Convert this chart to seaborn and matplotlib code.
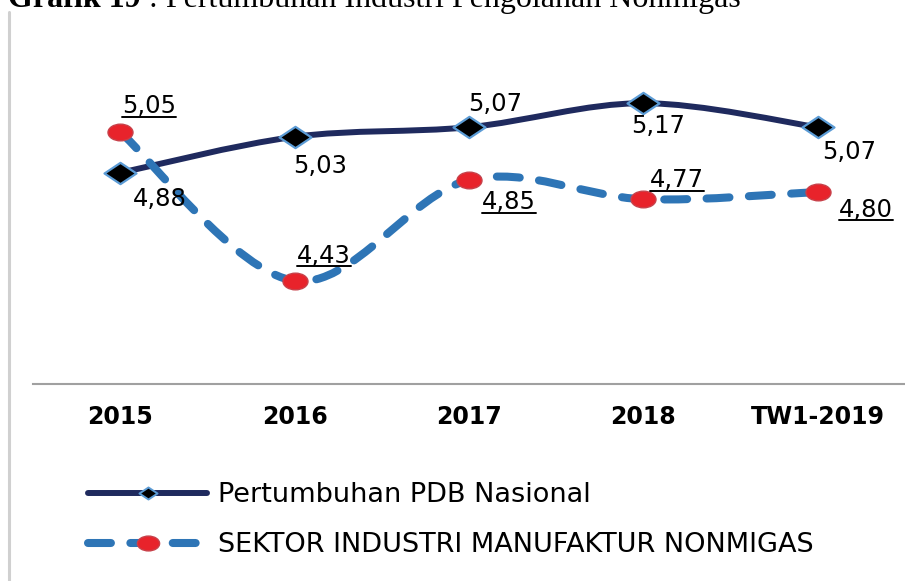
import numpy as np
import matplotlib
matplotlib.use("Agg")
import matplotlib.pyplot as plt
from matplotlib.path import Path
from matplotlib.patches import PathPatch
from matplotlib.lines import Line2D
from matplotlib.transforms import Affine2D
import seaborn as sns

# --- Data ---
categories = ["2015", "2016", "2017", "2018", "TW1-2019"]
pdb_nasional = [4.88, 5.03, 5.07, 5.17, 5.07]
industri_nonmigas = [5.05, 4.43, 4.85, 4.77, 4.80]
label_pdb = "Pertumbuhan PDB Nasional"
label_industri = "SEKTOR INDUSTRI MANUFAKTUR NONMIGAS"
title_bold = "Grafik 19"
title_rest = " : Pertumbuhan Industri Pengolahan Nonmigas"

# where each value label sits relative to its point, pixels (right, down)
off_pdb = [(40, 26), (26, 29), (26, -23), (15, 23), (31, 25)]
off_ind = [(29, -26), (29, -25), (40, 22), (34, -19), (48, 18)]

NAVY = "#1F2A5E"
BLUE = "#2E75B6"
LIGHT_BLUE = "#5B9BD5"
RED = "#E8232B"

W, H = 905, 581


def smooth_path(xs, ys):
    """Catmull-Rom style bezier through the points (like Excel smoothed lines)."""
    pts = np.column_stack([xs, ys]).astype(float)
    n = len(pts)
    verts = [pts[0]]
    codes = [Path.MOVETO]
    for i in range(n - 1):
        p0 = pts[max(i - 1, 0)]
        p1 = pts[i]
        p2 = pts[i + 1]
        p3 = pts[min(i + 2, n - 1)]
        verts += [p1 + (p2 - p0) / 6, p2 - (p3 - p1) / 6, p2]
        codes += [Path.CURVE4] * 3
    return Path(verts, codes)


# stretched marker shapes
diamond = Path([(-1.5, 0), (0, 1), (1.5, 0), (0, -1), (-1.5, 0)],
               [Path.MOVETO, Path.LINETO, Path.LINETO, Path.LINETO, Path.CLOSEPOLY])
ellipse = Path.unit_circle().transformed(Affine2D().scale(1.5, 1.0))

sns.set_theme(style="white")
plt.rcParams["font.family"] = ["DejaVu Sans"]
plt.rcParams["text.color"] = "black"
plt.rcParams["lines.scale_dashes"] = False

fig = plt.figure(figsize=(W / 100, H / 100), dpi=100)
ax = fig.add_axes([33 / W, (H - 384) / H, 872 / W, 336 / H])

x_pos = np.arange(len(categories))

# smoothed lines
ax.add_patch(PathPatch(smooth_path(x_pos, pdb_nasional), fill=False,
                       edgecolor=NAVY, lw=4.3, capstyle="round",
                       joinstyle="round", zorder=2))
ax.add_patch(PathPatch(smooth_path(x_pos, industri_nonmigas), fill=False,
                       edgecolor=BLUE, lw=5.8, linestyle=(0, (16.5, 14.0)),
                       capstyle="round", joinstyle="round", zorder=4))

# markers
sns.lineplot(x=x_pos, y=pdb_nasional, ax=ax, linestyle="", marker=diamond,
             markersize=23, markerfacecolor="black", markeredgecolor=LIGHT_BLUE,
             markeredgewidth=1.6, zorder=3, errorbar=None)
sns.lineplot(x=x_pos, y=industri_nonmigas, ax=ax, linestyle="", marker=ellipse,
             markersize=18, markerfacecolor=RED, markeredgecolor="#C8414A",
             markeredgewidth=1.0, zorder=5, errorbar=None)

# value labels
ann_ind = []
for i, v in enumerate(pdb_nasional):
    dx, dy = off_pdb[i]
    ax.annotate(f"{v:.2f}".replace(".", ","), xy=(x_pos[i], v),
                xytext=(dx * 0.72, -dy * 0.72), textcoords="offset points",
                ha="center", va="center", fontsize=17.5, color="black", zorder=6)
for i, v in enumerate(industri_nonmigas):
    dx, dy = off_ind[i]
    t = ax.annotate(f"{v:.2f}".replace(".", ","), xy=(x_pos[i], v),
                    xytext=(dx * 0.72, -dy * 0.72), textcoords="offset points",
                    ha="center", va="center", fontsize=17.5, color="black", zorder=6)
    ann_ind.append(t)

ax.set_xlim(-0.5, len(categories) - 0.5)
ax.set_ylim(4.0, 5.4)
ax.set_yticks([])
ax.set_xticks(x_pos, categories)
ax.tick_params(axis="x", length=0, pad=15, labelsize=17, labelcolor="black")
for lab in ax.get_xticklabels():
    lab.set_fontweight("bold")
for s in ["top", "right", "left"]:
    ax.spines[s].set_visible(False)
ax.spines["bottom"].set_color("#A0A0A0")
ax.spines["bottom"].set_linewidth(1.5)
ax.set_xlabel("")
ax.set_ylabel("")

# legend
h1 = Line2D([], [], color=NAVY, lw=4.3, solid_capstyle="round", marker=diamond,
            markersize=13, markerfacecolor="black", markeredgecolor=LIGHT_BLUE,
            markeredgewidth=1.4)
h2 = Line2D([], [], color=BLUE, lw=5.8, linestyle=(0, (16.5, 14.0)),
            dash_capstyle="round", marker=ellipse, markersize=16,
            markerfacecolor=RED, markeredgecolor="#C8414A", markeredgewidth=1.0)
leg = fig.legend([h1, h2], [label_pdb, label_industri], loc="upper left",
                 bbox_to_anchor=(88 / W, 1 - 482 / H), frameon=False,
                 prop={"size": 19.5}, handlelength=4.4, handletextpad=0.41,
                 labelspacing=0.9, borderpad=0, borderaxespad=0, numpoints=1)
for txt in leg.get_texts():
    txt.set_color("black")

# page frame line at the left
fig.add_artist(Line2D([9 / W, 9 / W], [0, 1 - 12 / H], transform=fig.transFigure,
                      color="#D0D0D0", lw=2.2))

# cut-off caption at the very top, as in the scanned page
t1 = fig.text(8 / W, 1 - 7 / H, title_bold, fontfamily="Liberation Serif",
              fontweight="bold", fontsize=23, va="baseline", color="black")
fig.canvas.draw()
bb = t1.get_window_extent()
fig.text(bb.x1 / W, 1 - 7 / H, title_rest, fontfamily="Liberation Serif",
         fontsize=23, va="baseline", color="black")

# underline the industry labels
inv = fig.transFigure.inverted()
for t in ann_ind:
    bb = t.get_window_extent()
    (x0, y0), (x1, _) = inv.transform([(bb.x0, bb.y0 + 1.5), (bb.x1, bb.y0 + 1.5)])
    fig.add_artist(Line2D([x0, x1], [y0, y0], transform=fig.transFigure,
                          color="black", lw=1.4))

fig.savefig("out.png", dpi=100)
